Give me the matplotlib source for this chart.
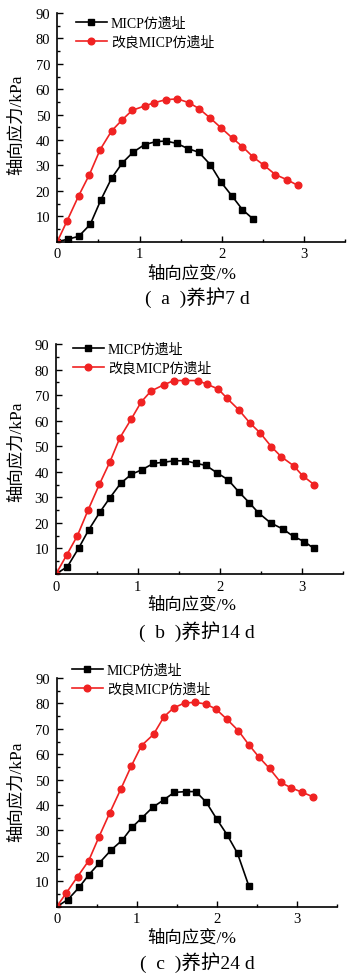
import matplotlib
matplotlib.use('Agg')
from matplotlib import pyplot as plt
from matplotlib.ticker import MultipleLocator

plt.rcParams['font.family'] = ['Liberation Serif', 'Noto Sans CJK SC']
plt.rcParams['axes.unicode_minus'] = False

# ---- data ----
label_a = 'MICP仿遗址'
label_b = '改良MICP仿遗址'
captions = ['(  a  )养护7 d', '(  b  )养护14 d', '(  c  )养护24 d']

# 7 d
x7_micp = [0, 0.13, 0.26, 0.40, 0.53, 0.66, 0.79, 0.92, 1.06, 1.20, 1.32, 1.45, 1.59, 1.72, 1.86, 1.99, 2.12, 2.25, 2.38]
y7_micp = [0, 1.0, 2.1, 6.8, 16.5, 25.0, 31.0, 35.2, 38.2, 39.4, 39.6, 38.7, 36.6, 35.2, 30.3, 23.4, 18.1, 12.6, 8.9]
x7_mod = [0, 0.12, 0.26, 0.39, 0.52, 0.66, 0.79, 0.91, 1.06, 1.18, 1.32, 1.46, 1.60, 1.72, 1.86, 1.99, 2.13, 2.25, 2.38, 2.51, 2.65, 2.79, 2.92]
y7_mod = [0, 8.3, 18.1, 26.4, 36.2, 43.6, 48.0, 51.7, 53.4, 54.7, 55.9, 56.2, 54.7, 52.4, 48.6, 44.8, 40.7, 37.4, 33.3, 30.1, 26.4, 24.4, 22.2]

# 14 d
x14_micp = [0, 0.14, 0.28, 0.40, 0.54, 0.66, 0.79, 0.92, 1.05, 1.19, 1.31, 1.44, 1.58, 1.71, 1.83, 1.97, 2.10, 2.23, 2.36, 2.47, 2.62, 2.77, 2.90, 3.03, 3.15]
y14_micp = [0, 2.9, 10.3, 17.3, 24.4, 29.9, 35.5, 39.0, 40.8, 43.3, 43.7, 44.3, 44.3, 43.3, 42.5, 39.5, 36.9, 32.2, 27.9, 24.0, 20.0, 17.6, 14.7, 12.7, 10.0]
x14_mod = [0, 0.13, 0.26, 0.39, 0.53, 0.66, 0.78, 0.92, 1.04, 1.16, 1.32, 1.44, 1.57, 1.73, 1.84, 1.98, 2.09, 2.23, 2.37, 2.49, 2.63, 2.75, 2.90, 3.01, 3.15]
y14_mod = [0, 7.4, 14.9, 24.9, 35.1, 44.0, 53.3, 60.7, 67.3, 71.6, 74.1, 75.7, 75.7, 75.7, 74.3, 72.4, 68.7, 64.3, 59.0, 55.3, 49.8, 45.9, 42.4, 38.5, 35.0]

# 24 d
x24_micp = [0, 0.14, 0.28, 0.40, 0.53, 0.68, 0.82, 0.94, 1.06, 1.20, 1.34, 1.47, 1.62, 1.74, 1.87, 2.00, 2.13, 2.26, 2.40]
y24_micp = [0, 2.8, 7.6, 12.5, 17.1, 22.3, 26.2, 31.2, 34.8, 39.1, 42.1, 45.0, 45.3, 45.3, 41.1, 34.5, 28.3, 21.0, 8.3]
x24_mod = [0, 0.12, 0.26, 0.40, 0.53, 0.66, 0.80, 0.93, 1.06, 1.21, 1.34, 1.46, 1.60, 1.73, 1.86, 1.99, 2.13, 2.27, 2.40, 2.53, 2.66, 2.80, 2.93, 3.07, 3.20]
y24_mod = [0, 5.4, 11.8, 18.1, 27.6, 36.7, 46.2, 55.2, 63.4, 67.8, 74.7, 78.2, 80.2, 80.4, 79.8, 77.8, 73.7, 69.3, 63.8, 58.8, 54.4, 48.9, 46.8, 45.0, 43.3]

panels = [
    (x7_micp, y7_micp, x7_mod, y7_mod),
    (x14_micp, y14_micp, x14_mod, y14_mod),
    (x24_micp, y24_micp, x24_mod, y24_mod),
]

# ---- layout in pixels (figure 347 x 979) ----
W, H = 347, 979
# left, axis bottom y, axis top y, px per unit x
boxes = [(57.3, 242.7, 14.0, 82.3), (56.0, 575.0, 345.0, 81.9), (56.7, 907.7, 679.0, 80.0)]
legend_top = [18, 344, 665]
xlabel_y = [275, 606, 939]
caption_y = [298, 632, 963]
ylabel_y = [125, 452, 792]
legend_x = [76, 73, 72]

red = '#f02222'

fig = plt.figure(figsize=(W / 100, H / 100), dpi=100)

for i, (xb, yb, xr, yr) in enumerate(panels):
    left, ybot, ytop, ppu = boxes[i]
    ax = fig.add_axes([left / W, (H - ybot) / H, 3.5 * ppu / W, (ybot - ytop) / H])
    ax.plot(xb, yb, color='black', marker='s', markersize=4.3, linewidth=1.2, label=label_a)
    ax.plot(xr, yr, color=red, marker='o', markersize=4.8, linewidth=1.2, label=label_b)
    ax.set_xlim(0, 3.5)
    ax.set_ylim(0, 90)
    ax.set_xticks([0, 1, 2, 3])
    ax.set_yticks([10, 20, 30, 40, 50, 60, 70, 80, 90])
    ax.xaxis.set_minor_locator(MultipleLocator(0.5))
    ax.yaxis.set_minor_locator(MultipleLocator(5))
    ax.tick_params(direction='in', which='major', length=4, width=1.0, labelsize=10.5)
    ax.tick_params(direction='in', which='minor', length=2, width=1.0)
    ax.tick_params(axis='y', pad=5)
    ax.tick_params(axis='x', pad=4)
    for s in ['top', 'right']:
        ax.spines[s].set_visible(False)
    for s in ['left', 'bottom']:
        ax.spines[s].set_linewidth(1.2)
    ax.legend(loc='upper left', bbox_to_anchor=(legend_x[i] / W, (H - legend_top[i]) / H),
              bbox_transform=fig.transFigure, frameon=False, fontsize=10,
              handlelength=2.2, handletextpad=0.3, labelspacing=0.35,
              borderpad=0, borderaxespad=0)
    fig.text(17 / W, (H - ylabel_y[i]) / H, '轴向应力/kPa', rotation=90,
             ha='center', va='center', fontsize=12.5)
    fig.text(192 / W, (H - xlabel_y[i]) / H, '轴向应变/%', ha='center', va='center', fontsize=12.5)
    fig.text(197 / W, (H - caption_y[i]) / H, captions[i], ha='center', va='center', fontsize=14)

fig.savefig('out.png', dpi=100)
